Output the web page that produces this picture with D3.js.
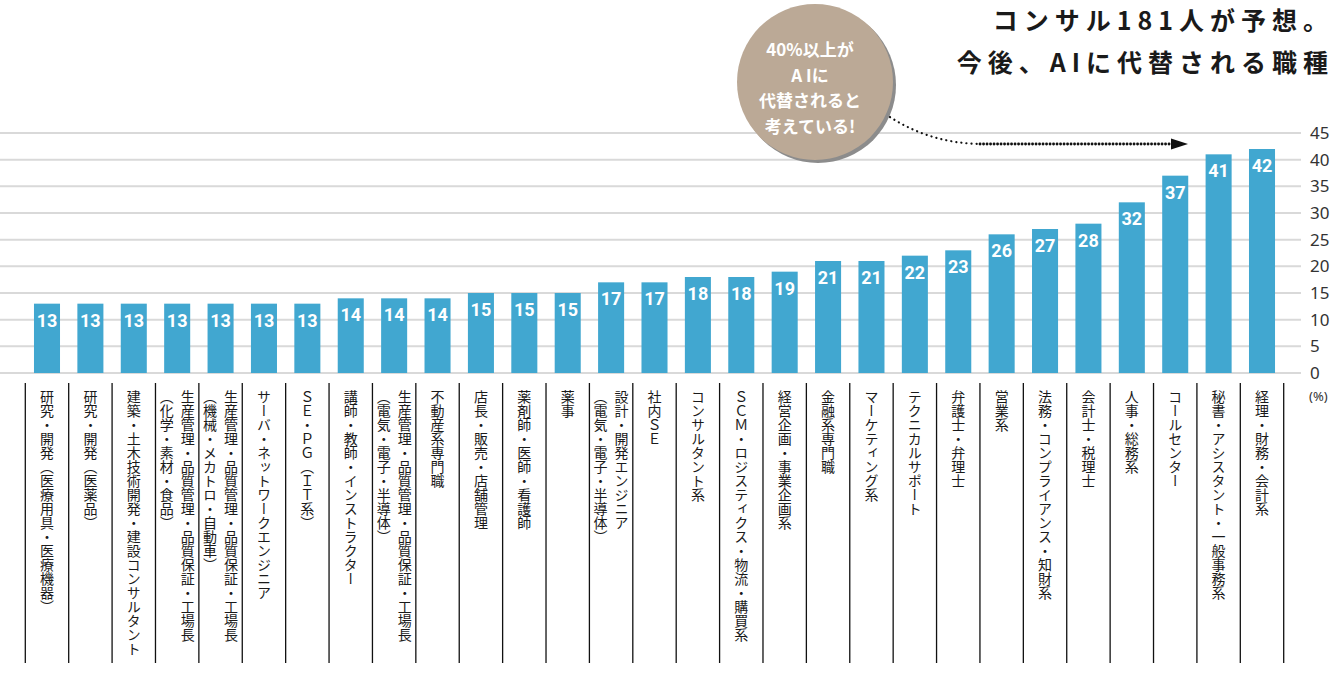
<!DOCTYPE html>
<html>
<head>
<meta charset="utf-8">
<script src="https://cdn.jsdelivr.net/npm/d3@7"></script>
<style>
  body { margin: 0; background: #fff; }
  svg { display: block; }
  .lbl { writing-mode: vertical-rl; }
</style>
</head>
<body>
<div id="chart"></div>
<script>
// job categories, each one is a list of columns (right column first)
var jobs = [
  ["研究・開発（医療用具・医療機器）"],
  ["研究・開発（医薬品）"],
  ["建築・土木技術開発・建設コンサルタント"],
  ["生産管理・品質管理・品質保証・工場長", "（化学・素材・食品）"],
  ["生産管理・品質管理・品質保証・工場長", "（機械・メカトロ・自動車）"],
  ["サーバ・ネットワークエンジニア"],
  ["ＳＥ・ＰＧ（ＩＴ系）"],
  ["講師・教師・インストラクター"],
  ["生産管理・品質管理・品質保証・工場長", "（電気・電子・半導体）"],
  ["不動産系専門職"],
  ["店長・販売・店舗管理"],
  ["薬剤師・医師・看護師"],
  ["薬事"],
  ["設計・開発エンジニア", "（電気・電子・半導体）"],
  ["社内ＳＥ"],
  ["コンサルタント系"],
  ["ＳＣＭ・ロジスティクス・物流・購買系"],
  ["経営企画・事業企画系"],
  ["金融系専門職"],
  ["マーケティング系"],
  ["テクニカルサポート"],
  ["弁護士・弁理士"],
  ["営業系"],
  ["法務・コンプライアンス・知財系"],
  ["会計士・税理士"],
  ["人事・総務系"],
  ["コールセンター"],
  ["秘書・アシスタント・一般事務系"],
  ["経理・財務・会計系"]
];
var shares = [13, 13, 13, 13, 13, 13, 13, 14, 14, 14, 15, 15, 15, 17, 17, 18, 18, 19, 21, 21, 22, 23, 26, 27, 28, 32, 37, 41, 42];
var yTicks = [0, 5, 10, 15, 20, 25, 30, 35, 40, 45];
var titleLines = ["コンサル181人が予想。", "今後、AIに代替される職種"];
var bubbleLines = ["40%以上が", "A Iに", "代替されると", "考えている!"];

var W = 1340, H = 677;
var svg = d3.select("#chart").append("svg")
    .attr("width", W)
    .attr("height", H);

var x = d3.scaleBand()
    .domain(d3.range(jobs.length))
    .range([25.3, 1283.7])
    .padding(0);

var y = d3.scaleLinear()
    .domain([0, 45])
    .range([373, 133]);

var barW = x.bandwidth() * 0.6;

// grid lines + tick labels on the right
svg.append("g").selectAll("line")
  .data(yTicks)
  .enter().append("line")
    .attr("x1", 0)
    .attr("x2", 1301)
    .attr("y1", function(d) { return y(d); })
    .attr("y2", function(d) { return y(d); })
    .attr("stroke", "#d9d9d9")
    .attr("stroke-width", 2);

svg.append("g").selectAll("text")
  .data(yTicks)
  .enter().append("text")
    .attr("x", 1310)
    .attr("y", function(d) { return y(d); })
    .attr("dy", "0.36em")
    .style("font-family", "'Noto Sans', sans-serif")
    .style("font-size", "17px")
    .style("fill", "#333")
    .text(function(d) { return d; });

svg.append("text")
    .attr("x", 1309)
    .attr("y", 401)
    .style("font-family", "'Noto Sans', sans-serif")
    .style("font-size", "13px")
    .style("fill", "#333")
    .text("(%)");

// bars
var bars = svg.append("g").selectAll("g")
  .data(shares)
  .enter().append("g");

bars.append("rect")
    .attr("x", function(d, i) { return x(i) + (x.bandwidth() - barW) / 2; })
    .attr("y", function(d) { return y(d); })
    .attr("width", barW)
    .attr("height", function(d) { return y(0) - y(d); })
    .attr("fill", "#41a7d0");

bars.append("text")
    .attr("x", function(d, i) { return x(i) + x.bandwidth() / 2; })
    .attr("y", function(d) { return y(d) + 23; })
    .attr("text-anchor", "middle")
    .style("font-family", "Roboto, 'Liberation Sans', sans-serif")
    .style("font-weight", "bold")
    .style("font-size", "18px")
    .style("fill", "#fff")
    .text(function(d) { return d; });

// separators under the axis
var bounds = d3.range(jobs.length).map(function(i) { return x(i); });
bounds.push(x(jobs.length - 1) + x.bandwidth());
svg.append("g").selectAll("line")
  .data(bounds)
  .enter().append("line")
    .attr("x1", function(d) { return d; })
    .attr("x2", function(d) { return d; })
    .attr("y1", 383)
    .attr("y2", 663)
    .attr("stroke", "#111")
    .attr("stroke-width", 1.3);

// vertical category labels
var lab = svg.append("g").selectAll("g")
  .data(jobs)
  .enter().append("g");

lab.selectAll("text")
  .data(function(d, i) {
    return d.map(function(s, k) {
      var cx = x(i) + x.bandwidth() / 2;
      var off = d.length == 2 ? (k == 0 ? 10.5 : -10.5) : 0;
      return {s: s, x: cx + off};
    });
  })
  .enter().append("text")
    .attr("class", "lbl")
    .attr("x", function(d) { return d.x; })
    .attr("y", 390)
    .style("font-family", "'Noto Sans CJK JP', sans-serif")
    .style("font-size", "14px")
    .style("fill", "#1a1a1a")
    .text(function(d) { return d.s; });

// title, right edge pinned at x=1328
svg.append("g").selectAll("text")
  .data(titleLines)
  .enter().append("text")
    .attr("x", 0)
    .attr("y", function(d, i) { return 30 + i * 42; })
    .style("font-family", "'Noto Sans CJK JP', sans-serif")
    .style("font-weight", "bold")
    .style("font-size", "25px")
    .style("letter-spacing", "6px")
    .style("fill", "#1a1a1a")
    .text(function(d) { return d; })
    .each(function() {
      var bb = this.getBBox();
      d3.select(this).attr("x", 1334 - bb.width);
    });

// bubble note
svg.append("circle")
    .attr("cx", 818)
    .attr("cy", 85)
    .attr("r", 78)
    .attr("fill", "#8c8c8c");
svg.append("circle")
    .attr("cx", 815)
    .attr("cy", 82)
    .attr("r", 78)
    .attr("fill", "#bba996");

svg.append("g").selectAll("text")
  .data(bubbleLines)
  .enter().append("text")
    .attr("x", 810)
    .attr("y", function(d, i) { return 56 + i * 25.5; })
    .attr("text-anchor", "middle")
    .style("font-family", "'Noto Sans CJK JP', sans-serif")
    .style("font-weight", "bold")
    .style("font-size", "17px")
    .style("fill", "#fff")
    .text(function(d) { return d; });

// dotted arrow
svg.append("path")
    .attr("d", "M890,117 Q930,143 980,144")
    .attr("fill", "none")
    .attr("stroke", "#111")
    .attr("stroke-width", 2.2)
    .attr("stroke-linecap", "round")
    .attr("stroke-dasharray", "0.1 5");
svg.append("path")
    .attr("d", "M980,144 L1172,144")
    .attr("fill", "none")
    .attr("stroke", "#111")
    .attr("stroke-width", 2.8)
    .attr("stroke-linecap", "round")
    .attr("stroke-dasharray", "0.1 3.4");
svg.append("path")
    .attr("d", "M1171,138.5 L1188,144 L1171,149.5 Z")
    .attr("fill", "#111");
</script>
</body>
</html>
